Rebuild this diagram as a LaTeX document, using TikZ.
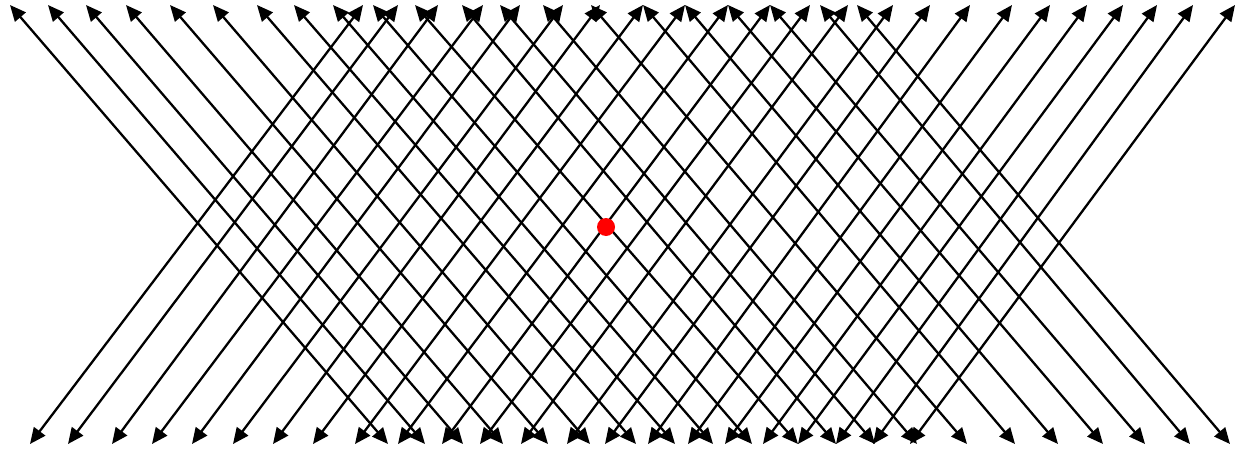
\documentclass[tikz,border=0pt]{standalone}
\usetikzlibrary{arrows.meta}
\begin{document}
\begin{tikzpicture}[x=1pt,y=-1pt,
  ray/.style={line width=2.3pt,
    {Triangle[length=16pt,width=14pt]}-{Triangle[length=16pt,width=14pt]}},
  reddot/.style={circle,fill=red,draw=none,minimum size=18pt,inner sep=0pt}]
\useasboundingbox (0,0) rectangle (1244,452);
% lines running from upper left to lower right: top x / bottom x
\foreach \t/\b [count=\i] in {10/388,48/425,86/463,126/503,170/548,213/590,257/636,294/675,333/713,373/752,415/798,462/836,500/875,543/917,591/967,643/1015,685/1058,728/1103,770/1145,820/1190,857/1230}{
  \coordinate (nwT\i) at (\t,5);
  \coordinate (nwB\i) at (\b,444);
  \draw[ray] (nwT\i) -- (nwB\i);
}
% lines running from lower left to upper right: bottom x / top x
\foreach \b/\t [count=\i] in {30/363,68/398,112/438,152/483,192/520,233/563,273/600,313/643,355/685,398/728,442/770,480/810,521/848,567/893,605/930,648/970,688/1012,725/1050,763/1087,798/1123,836/1157,873/1193,910/1235}{
  \coordinate (neB\i) at (\b,444);
  \coordinate (neT\i) at (\t,5);
  \draw[ray] (neB\i) -- (neT\i);
}
\node[reddot] (dot) at (606,227) {};
\end{tikzpicture}
\end{document}
